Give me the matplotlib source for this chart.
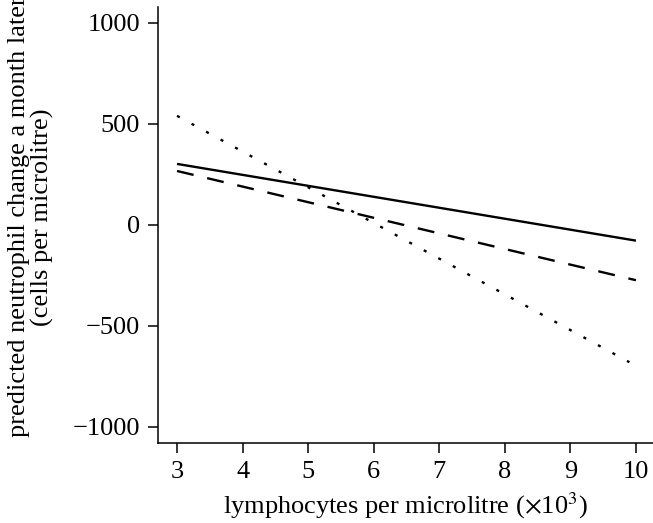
import matplotlib
matplotlib.use("Agg")
import matplotlib.pyplot as plt

plt.rcParams['font.family'] = ['Liberation Serif', 'DejaVu Serif']
plt.rcParams['mathtext.fontset'] = 'stix'

# fitted lines (x in 10^3 cells, y in cells per microlitre)
x_solid = [3, 10]
y_solid = [302, -78]
x_dashed = [3, 10]
y_dashed = [267, -274]
x_dotted = [3, 9.9]
y_dotted = [540, -680]

xticks = [3, 4, 5, 6, 7, 8, 9, 10]
yticks = [-1000, -500, 0, 500, 1000]

fig = plt.figure(figsize=(6.53, 5.23), dpi=100)
ax = fig.add_axes([0.242, 0.153, 0.758, 0.834])

ax.plot(x_solid, y_solid, color='black', lw=1.7, solid_capstyle='butt')
ax.plot(x_dashed, y_dashed, color='black', lw=1.7, dashes=(7.2, 5.9))
ax.plot(x_dotted, y_dotted, color='black', lw=1.7, dashes=(1.3, 5.7))

ax.set_xlim(2.71, 10.26)
ax.set_ylim(-1080, 1080)
ax.set_xticks(xticks)
ax.set_yticks(yticks)
ax.set_yticklabels([str(v).replace('-', '\u2212') for v in yticks])

for s in ['top', 'right']:
    ax.spines[s].set_visible(False)
for s in ['left', 'bottom']:
    ax.spines[s].set_linewidth(1.1)
ax.tick_params(direction='out', length=7, width=1.1, labelsize=19, pad=6)

ax.set_xlabel('lymphocytes per microlitre ($\\times$10$^3$)', fontsize=19, labelpad=5)
fig.text(31 / 653, 0.585, 'predicted neutrophil change a month later\n(cells per microlitre)',
         rotation=90, ha='center', va='center', fontsize=19, multialignment='center',
         linespacing=1.05)

fig.savefig('out.png', dpi=100)
